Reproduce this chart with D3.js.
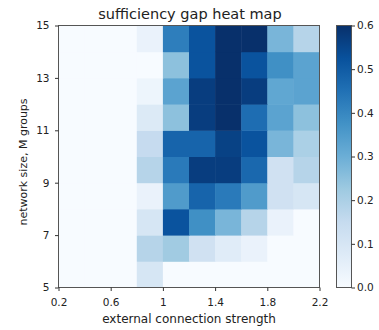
<!DOCTYPE html>
<html>
<head>
<meta charset="utf-8">
<script src="https://cdn.jsdelivr.net/npm/d3@7"></script>
<style>
  body { margin: 0; background: #fff; }
  text { font-family: "DejaVu Sans", sans-serif; fill: #222; }
</style>
</head>
<body>
<div id="chart"></div>
<script>
// x bins (external connection strength) and y bins (network size)
const strength = [0.2, 0.4, 0.6, 0.8, 1.0, 1.2, 1.4, 1.6, 1.8, 2.0];
const groups = [5, 6, 7, 8, 9, 10, 11, 12, 13, 14];
// sufficiency gap, one row per M (bottom row first)
const gapM5  = [0, 0, 0, 0.10, 0.00, 0.00, 0.00, 0.00, 0.00, 0.00];
const gapM6  = [0, 0, 0, 0.18, 0.22, 0.12, 0.07, 0.04, 0.00, 0.00];
const gapM7  = [0, 0, 0, 0.10, 0.52, 0.38, 0.28, 0.18, 0.04, 0.00];
const gapM8  = [0, 0, 0, 0.04, 0.35, 0.48, 0.43, 0.35, 0.12, 0.10];
const gapM9  = [0, 0, 0, 0.18, 0.43, 0.57, 0.57, 0.47, 0.12, 0.18];
const gapM10 = [0, 0, 0, 0.15, 0.48, 0.48, 0.56, 0.52, 0.28, 0.20];
const gapM11 = [0, 0, 0, 0.08, 0.25, 0.57, 0.60, 0.46, 0.33, 0.25];
const gapM12 = [0, 0, 0, 0.03, 0.33, 0.57, 0.60, 0.57, 0.32, 0.33];
const gapM13 = [0, 0, 0, 0.00, 0.25, 0.52, 0.60, 0.52, 0.38, 0.33];
const gapM14 = [0, 0, 0, 0.04, 0.42, 0.52, 0.60, 0.60, 0.28, 0.18];
const gapRows = [gapM5, gapM6, gapM7, gapM8, gapM9, gapM10, gapM11, gapM12, gapM13, gapM14];
const xTicks = [0.2, 0.6, 1.0, 1.4, 1.8, 2.2];
const yTicks = [5, 7, 9, 11, 13, 15];
const cbTicks = [0, 0.1, 0.2, 0.3, 0.4, 0.5, 0.6];

const W = 379, H = 330;
const plot = { left: 58.5, top: 25.5, width: 261, height: 262 };
const cbar = { left: 336.5, width: 15 };

const svg = d3.select('#chart').append('svg')
  .attr('width', W).attr('height', H);

const x = d3.scaleLinear().domain([0.2, 2.2]).range([plot.left, plot.left + plot.width]);
const y = d3.scaleLinear().domain([5, 15]).range([plot.top + plot.height, plot.top]);

// matplotlib Blues
const blues = ['#f7fbff','#deebf7','#c6dbef','#9ecae1','#6baed6','#4292c6','#2171b5','#08519c','#08306b'];
const color = d3.scaleLinear()
  .domain(d3.range(9).map(i => i * 0.6 / 8))
  .range(blues)
  .interpolate(d3.interpolateRgb)
  .clamp(true);

const cells = [];
gapRows.forEach((row, j) => row.forEach((v, i) => cells.push({ s: strength[i], m: groups[j], v })));

svg.append('g').selectAll('rect')
  .data(cells)
  .enter().append('rect')
  .attr('x', d => x(d.s))
  .attr('y', d => y(d.m + 1))
  .attr('width', d => x(d.s + 0.2) - x(d.s) + 0.5)
  .attr('height', d => y(d.m) - y(d.m + 1) + 0.5)
  .attr('fill', d => color(d.v));

// frame
svg.append('rect')
  .attr('x', plot.left).attr('y', plot.top)
  .attr('width', plot.width).attr('height', plot.height)
  .attr('fill', 'none').attr('stroke', '#555').attr('stroke-width', 1);

const xAxis = svg.append('g')
  .attr('transform', `translate(0, ${plot.top + plot.height})`)
  .call(d3.axisBottom(x).tickValues(xTicks).tickSize(3.5).tickPadding(7.5).tickFormat(d3.format('~g')));
const yAxis = svg.append('g')
  .attr('transform', `translate(${plot.left}, 0)`)
  .call(d3.axisLeft(y).tickValues(yTicks).tickSize(3.5).tickPadding(5.5));
[xAxis, yAxis].forEach(a => {
  a.select('.domain').remove();
  a.selectAll('line').attr('stroke', '#333');
  a.selectAll('text').attr('font-size', 10.5).attr('font-family', 'DejaVu Sans');
});

// colorbar
const cy = d3.scaleLinear().domain([0, 0.6]).range([plot.top + plot.height, plot.top]);
const defs = svg.append('defs');
const grad = defs.append('linearGradient').attr('id', 'cbgrad')
  .attr('x1', 0).attr('y1', 1).attr('x2', 0).attr('y2', 0);
blues.forEach((c, i) => grad.append('stop').attr('offset', i / 8).attr('stop-color', c));
svg.append('rect')
  .attr('x', cbar.left).attr('y', plot.top)
  .attr('width', cbar.width).attr('height', plot.height)
  .attr('fill', 'url(#cbgrad)').attr('stroke', '#555').attr('stroke-width', 1);
const cAxis = svg.append('g')
  .attr('transform', `translate(${cbar.left + cbar.width}, 0)`)
  .call(d3.axisRight(cy).tickValues(cbTicks).tickSize(3.5).tickPadding(2).tickFormat(d3.format('.1f')));
cAxis.select('.domain').remove();
cAxis.selectAll('line').attr('stroke', '#333');
cAxis.selectAll('text').attr('font-size', 10.5).attr('font-family', 'DejaVu Sans');

// labels
svg.append('text')
  .attr('x', plot.left + plot.width / 2 + 1).attr('y', 18.5)
  .attr('text-anchor', 'middle').attr('font-size', 14.5)
  .text('sufficiency gap heat map');
svg.append('text')
  .attr('x', plot.left + plot.width / 2).attr('y', 323)
  .attr('text-anchor', 'middle').attr('font-size', 12)
  .text('external connection strength');
svg.append('text')
  .attr('transform', 'translate(26.5, 162) rotate(-90)')
  .attr('text-anchor', 'middle').attr('font-size', 11)
  .text('network size, M groups');
</script>
</body>
</html>
